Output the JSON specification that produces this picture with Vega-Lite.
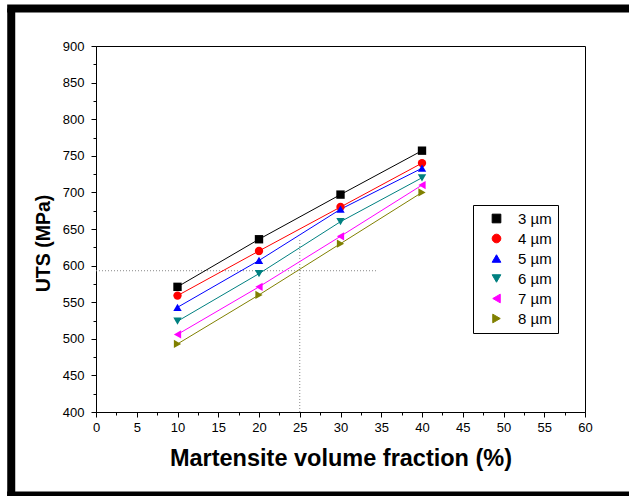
{
  "$schema": "https://vega.github.io/schema/vega-lite/v6.json",
  "width": 489,
  "height": 366,
  "autosize": {"type": "none"},
  "padding": {"left": 96, "top": 46, "right": 44, "bottom": 84},
  "background": "white",
  "config": {
    "font": "Liberation Sans",
    "view": {"stroke": "black", "strokeWidth": 1},
    "axis": {
      "grid": false,
      "domainColor": "black",
      "tickColor": "black",
      "labelColor": "black",
      "titleColor": "black",
      "labelFontSize": 13,
      "titleFontWeight": "bold",
      "tickSize": 5,
      "labelFlush": false
    },
    "legend": {
      "orient": "none",
      "legendX": 377,
      "legendY": 159,
      "strokeColor": "black",
      "fillColor": "white",
      "padding": 6,
      "labelFontSize": 15,
      "labelColor": "black",
      "symbolSize": 75,
      "rowPadding": 4,
      "symbolStrokeWidth": 1,
      "symbolOffset": 10,
      "labelOffset": 14
    }
  },
  "datasets": {
    "uts": [
      {"vf": 10, "uts": 571, "size": "3 µm"},
      {"vf": 20, "uts": 636, "size": "3 µm"},
      {"vf": 30, "uts": 697, "size": "3 µm"},
      {"vf": 40, "uts": 757, "size": "3 µm"},
      {"vf": 10, "uts": 559, "size": "4 µm"},
      {"vf": 20, "uts": 620, "size": "4 µm"},
      {"vf": 30, "uts": 680, "size": "4 µm"},
      {"vf": 40, "uts": 740, "size": "4 µm"},
      {"vf": 10, "uts": 543, "size": "5 µm"},
      {"vf": 20, "uts": 607, "size": "5 µm"},
      {"vf": 30, "uts": 677, "size": "5 µm"},
      {"vf": 40, "uts": 733, "size": "5 µm"},
      {"vf": 10, "uts": 524, "size": "6 µm"},
      {"vf": 20, "uts": 589, "size": "6 µm"},
      {"vf": 30, "uts": 660, "size": "6 µm"},
      {"vf": 40, "uts": 720, "size": "6 µm"},
      {"vf": 10, "uts": 506, "size": "7 µm"},
      {"vf": 20, "uts": 571, "size": "7 µm"},
      {"vf": 30, "uts": 640, "size": "7 µm"},
      {"vf": 40, "uts": 710, "size": "7 µm"},
      {"vf": 10, "uts": 493, "size": "8 µm"},
      {"vf": 20, "uts": 560, "size": "8 µm"},
      {"vf": 30, "uts": 630, "size": "8 µm"},
      {"vf": 40, "uts": 700, "size": "8 µm"}
    ],
    "guides": [
      {"x": 0, "x2": 34.4, "y": 593, "y2": 593},
      {"x": 25, "x2": 25, "y": 400, "y2": 637}
    ]
  },
  "resolve": {"axis": {"x": "independent", "y": "independent"}},
  "layer": [
    {
      "data": {"name": "guides"},
      "mark": {"type": "rule", "color": "#888888", "strokeDash": [1, 2], "strokeWidth": 1},
      "encoding": {
        "x": {"field": "x", "type": "quantitative",
              "scale": {"domain": [0, 60], "nice": false, "zero": false},
              "axis": {"orient": "bottom", "title": "Martensite volume fraction (%)", "titleFontSize": 23.5, "values": [0,5,10,15,20,25,30,35,40,45,50,55,60], "labelPadding": 4, "titlePadding": 12}},
        "x2": {"field": "x2"},
        "y": {"field": "y", "type": "quantitative",
              "scale": {"domain": [400, 900], "nice": false, "zero": false},
              "axis": {"orient": "left", "title": "UTS (MPa)", "titleFontSize": 19.5, "titleY": 197, "values": [400,450,500,550,600,650,700,750,800,850,900], "labelPadding": 7, "titlePadding": 9}},
        "y2": {"field": "y2"}
      }
    },
    {
      "data": {"name": "uts"},
      "mark": {"type": "line", "strokeWidth": 1},
      "encoding": {
        "x": {"field": "vf", "type": "quantitative",
              "axis": {"orient": "bottom", "title": null, "labels": false, "domain": false, "tickSize": 3, "values": [2.5,7.5,12.5,17.5,22.5,27.5,32.5,37.5,42.5,47.5,52.5,57.5]}},
        "y": {"field": "uts", "type": "quantitative",
              "axis": {"orient": "left", "title": null, "labels": false, "domain": false, "tickSize": 3, "values": [425,475,525,575,625,675,725,775,825,875]}},
        "color": {"field": "size", "type": "nominal",
                  "scale": {"domain": ["3 µm","4 µm","5 µm","6 µm","7 µm","8 µm"], "range": ["#000000","#FF0000","#0000FF","#008080","#FF00FF","#808000"]},
                  "legend": {"title": null}}
      }
    },
    {
      "data": {"name": "uts"},
      "mark": {"type": "point", "filled": true, "size": 70, "opacity": 1},
      "encoding": {
        "x": {"field": "vf", "type": "quantitative", "axis": null},
        "y": {"field": "uts", "type": "quantitative", "axis": null},
        "color": {"field": "size", "type": "nominal", "legend": {"title": null}},
        "shape": {"field": "size", "type": "nominal",
                  "scale": {"domain": ["3 µm","4 µm","5 µm","6 µm","7 µm","8 µm"], "range": ["square","circle","triangle-up","triangle-down","triangle-left","triangle-right"]},
                  "legend": {"title": null}}
      }
    },
    {
      "data": {"values": [{}]},
      "mark": {"type": "rule", "color": "black", "strokeWidth": 8, "clip": false},
      "encoding": {
        "x": {"datum": -10.4, "type": "quantitative", "axis": null},
        "y": {"datum": 951.1, "type": "quantitative", "axis": null},
        "y2": {"datum": 250}
      }
    },
    {
      "data": {"values": [{}]},
      "mark": {"type": "rule", "color": "black", "strokeWidth": 8, "clip": false},
      "encoding": {
        "x": {"datum": -10.9, "type": "quantitative", "axis": null},
        "x2": {"datum": 70},
        "y": {"datum": 951.1, "type": "quantitative", "axis": null}
      }
    },
    {
      "data": {"values": [{}]},
      "mark": {"type": "rule", "color": "black", "strokeWidth": 8, "clip": false},
      "encoding": {
        "x": {"datum": -10.9, "type": "quantitative", "axis": null},
        "x2": {"datum": 70},
        "y": {"datum": 285.8, "type": "quantitative", "axis": null}
      }
    }
  ]
}
